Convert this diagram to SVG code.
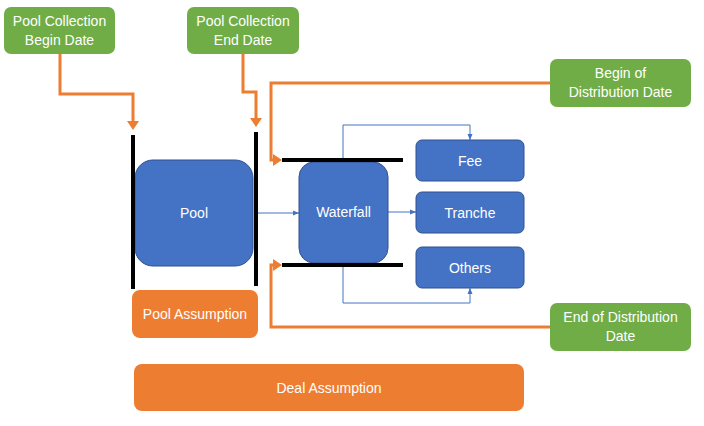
<svg xmlns="http://www.w3.org/2000/svg" width="704" height="426" viewBox="0 0 704 426">
<style>
.g{fill:#70AD47;}
.b{fill:#4472C4;stroke:#2F528F;stroke-width:1;}
.o{fill:#ED7D31;}
.t{font-family:"Liberation Sans",Arial,sans-serif;font-size:14px;fill:#fff;text-anchor:middle;dominant-baseline:central;}
.ol{fill:none;stroke:#ED7D31;stroke-width:3;}
.bl{fill:none;stroke:#4472C4;stroke-width:1;}
.bar{stroke:#000;stroke-width:4;}
</style>
<defs>
<marker id="oa" markerWidth="4" markerHeight="4" refX="1" refY="2" orient="auto" markerUnits="strokeWidth"><path d="M0,0L3,2L0,4z" fill="#ED7D31"/></marker>
<marker id="ba" markerWidth="8" markerHeight="8" refX="7" refY="4" orient="auto" markerUnits="userSpaceOnUse"><path d="M1,1.5L7,4L1,6.5z" fill="#4472C4"/></marker>
</defs>
<g id="connectors">
<path class="ol" d="M60,54V94H133V124" marker-end="url(#oa)"/>
<path class="ol" d="M243,54V92H256V121" marker-end="url(#oa)"/>
<path class="ol" d="M550,83H271V160H276" marker-end="url(#oa)"/>
<path class="ol" d="M550,327H271V265H276" marker-end="url(#oa)"/>
<path class="bl" d="M258,213H299" marker-end="url(#ba)"/>
<path class="bl" d="M388,212H416" marker-end="url(#ba)"/>
<path class="bl" d="M343,160V125H470V140" marker-end="url(#ba)"/>
<path class="bl" d="M343,265V303H470V288" marker-end="url(#ba)"/>
</g>
<g id="pool"><rect class="b" x="135" y="160" width="118" height="106" rx="18"/><text class="t" x="194" y="213">Pool</text></g>
<g id="waterfall"><rect class="b" x="299" y="162" width="89" height="101" rx="15"/><text class="t" x="343.5" y="212">Waterfall</text></g>
<g id="bars">
<line class="bar" x1="133" y1="135" x2="133" y2="289"/>
<line class="bar" x1="256" y1="132" x2="256" y2="286"/>
<line class="bar" x1="282" y1="160" x2="403" y2="160"/>
<line class="bar" x1="282" y1="265" x2="403" y2="265"/>
</g>
<g id="fee"><rect class="b" x="416" y="140" width="108" height="41" rx="6"/><text class="t" x="470" y="160.5">Fee</text></g>
<g id="tranche"><rect class="b" x="416" y="192" width="108" height="41" rx="6"/><text class="t" x="470" y="212.5">Tranche</text></g>
<g id="others"><rect class="b" x="416" y="247" width="108" height="41" rx="6"/><text class="t" x="470" y="267.5">Others</text></g>
<g id="poolCollectionBegin"><rect class="g" x="4" y="7" width="111" height="47" rx="7"/><text class="t" x="59.5" y="21">Pool Collection</text><text class="t" x="59.5" y="40">Begin Date</text></g>
<g id="poolCollectionEnd"><rect class="g" x="187" y="7" width="112" height="47" rx="7"/><text class="t" x="243" y="21">Pool Collection</text><text class="t" x="243" y="40">End Date</text></g>
<g id="beginDistribution"><rect class="g" x="550" y="59" width="141" height="48" rx="7"/><text class="t" x="620.5" y="73">Begin of</text><text class="t" x="620.5" y="92">Distribution Date</text></g>
<g id="endDistribution"><rect class="g" x="550" y="303" width="141" height="48" rx="7"/><text class="t" x="620.5" y="317">End of Distribution</text><text class="t" x="620.5" y="336">Date</text></g>
<g id="poolAssumption"><rect class="o" x="132" y="290" width="126" height="48" rx="8"/><text class="t" x="195" y="314">Pool Assumption</text></g>
<g id="dealAssumption"><rect class="o" x="134" y="364" width="390" height="47" rx="8"/><text class="t" x="329" y="387.5">Deal Assumption</text></g>
</svg>
